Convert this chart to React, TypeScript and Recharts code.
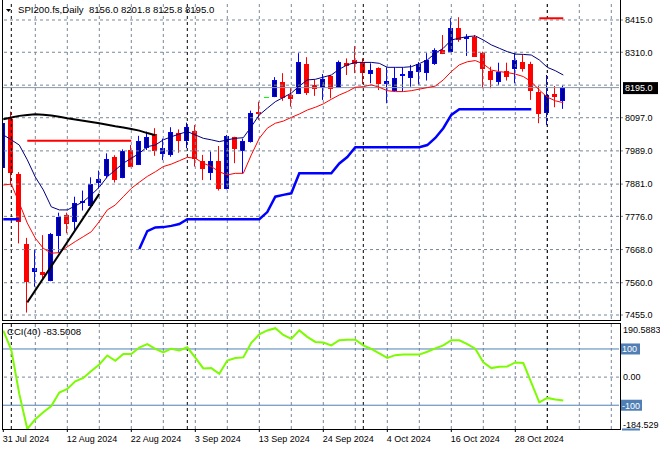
import React from 'react';
import { ComposedChart, Bar, Line, XAxis, YAxis, ReferenceLine } from 'recharts';

const dates = [
  '31 Jul', '1 Aug', '2 Aug', '5 Aug', '6 Aug', '7 Aug', '8 Aug', '9 Aug', '12 Aug', '13 Aug',
  '14 Aug', '15 Aug', '16 Aug', '19 Aug', '20 Aug', '21 Aug', '22 Aug', '23 Aug', '26 Aug', '27 Aug',
  '28 Aug', '29 Aug', '30 Aug', '2 Sep', '3 Sep', '4 Sep', '5 Sep', '6 Sep', '9 Sep', '10 Sep',
  '11 Sep', '12 Sep', '13 Sep', '15 Sep', '16 Sep', '17 Sep', '18 Sep', '19 Sep', '20 Sep', '23 Sep',
  '24 Sep', '25 Sep', '26 Sep', '27 Sep', '30 Sep', '1 Oct', '2 Oct', '3 Oct', '4 Oct', '7 Oct',
  '8 Oct', '9 Oct', '10 Oct', '11 Oct', '14 Oct', '15 Oct', '16 Oct', '17 Oct', '18 Oct', '21 Oct',
  '22 Oct', '23 Oct', '24 Oct', '25 Oct', '28 Oct', '29 Oct', '30 Oct', '31 Oct', '1 Nov', '4 Nov',
  '5 Nov',
];

const open = [
  7938, 8092, 7914, 7686, 7599, 7595, 7569, 7714, 7780, 7762,
  7823, 7813, 7889, 7910, 7970, 7903, 7992, 7946, 8003, 8044,
  7981, 7979, 8046, 8025, 8055, 7955, 7921, 7956, 7867, 8033,
  7992, 8022, 8117, 8165, 8168, 8214, 8171, 8177, 8271, 8204,
  8196, 8234, 8196, 8276, 8285, 8277, 8242, 8258, 8209, 8187,
  8235, 8231, 8250, 8247, 8274, 8317, 8315, 8388, 8356, 8361,
  8307, 8249, 8218, 8249, 8258, 8279, 8272, 8182, 8117, 8174,
  8156.0,
];
const high = [
  8095, 8117, 7920, 7706, 7667, 7715, 7722, 7788, 7788, 7840,
  7860, 7903, 7925, 7981, 7975, 7994, 8008, 8038, 8052, 8063,
  8029, 8066, 8059, 8081, 8073, 7976, 7987, 8005, 8041, 8035,
  8029, 8120, 8149, 8165, 8229, 8242, 8193, 8307, 8294, 8220,
  8239, 8236, 8283, 8290, 8330, 8290, 8274, 8261, 8261, 8261,
  8261, 8269, 8278, 8307, 8323, 8366, 8421, 8424, 8369, 8366,
  8312, 8263, 8276, 8276, 8307, 8301, 8279, 8200, 8236, 8200,
  8201.8,
];
const low = [
  7925, 7878, 7688, 7463, 7547, 7575, 7565, 7658, 7721, 7732,
  7795, 7808, 7867, 7900, 7886, 7900, 7936, 7943, 7992, 7973,
  7959, 7970, 7983, 7998, 7938, 7894, 7894, 7860, 7864, 7949,
  7916, 8016, 8090, 8165, 8164, 8152, 8133, 8174, 8171, 8168,
  8155, 8160, 8194, 8236, 8242, 8207, 8209, 8187, 8144, 8182,
  8182, 8198, 8205, 8218, 8269, 8304, 8312, 8344, 8298, 8296,
  8193, 8193, 8204, 8218, 8209, 8247, 8155, 8079, 8073, 8131,
  8125.8,
];
const close = [
  8079, 7921, 7762, 7567, 7607, 7590, 7719, 7773, 7755, 7820,
  7827, 7881, 7897, 7963, 7897, 7989, 7940, 8021, 8035, 7992,
  7999, 8050, 8025, 8066, 7965, 7934, 7955, 7867, 8038, 7999,
  8020, 8113, 8111, 8165, 8220, 8165, 8162, 8277, 8182, 8193,
  8222, 8193, 8277, 8269, 8276, 8247, 8252, 8211, 8217, 8225,
  8238, 8249, 8271, 8285, 8317, 8307, 8388, 8352, 8361, 8298,
  8258, 8223, 8247, 8233, 8285, 8258, 8187, 8113, 8171, 8168,
  8195.0,
];

// fast moving average (navy)
const maFast = [
  8041, 8025, 8008, 7960, 7904, 7862, 7807, 7797, 7797, 7810,
  7824, 7846, 7871, 7905, 7927, 7949, 7965, 7981, 8003, 8008,
  8025, 8035, 8044, 8052, 8041, 8030, 8025, 8019, 8025, 8030,
  8032, 8068, 8106, 8128, 8149, 8163, 8177, 8200, 8220, 8222,
  8229, 8236, 8255, 8269, 8277, 8277, 8277, 8274, 8261, 8261,
  8261, 8263, 8273, 8285, 8307, 8323, 8350, 8356, 8361, 8363,
  8350, 8334, 8323, 8312, 8304, 8303, 8301, 8285, 8261, 8250,
  8236,
];
// slow moving average (red)
const maSlow = [
  7878, 7881, 7819, 7754, 7705, 7672, 7656, 7658, 7677, 7694,
  7710, 7726, 7759, 7797, 7813, 7840, 7867, 7887, 7906, 7921,
  7938, 7946, 7957, 7968, 7965, 7949, 7938, 7921, 7911, 7916,
  7916, 7976, 8030, 8063, 8079, 8086, 8098, 8109, 8122, 8131,
  8142, 8157, 8171, 8182, 8196, 8198, 8204, 8196, 8185, 8182,
  8182, 8185, 8190, 8195, 8200, 8220, 8247, 8269, 8279, 8283,
  8272, 8252, 8247, 8244, 8239, 8231, 8214, 8187, 8164, 8152,
  8146,
];
// thick blue trailing support
const support: (number | null)[] = [
  7766.5, 7766.5, 7766.5, null, null, null, null, null, null, null,
  null, null, null, null, null, null, null, 7670, 7728, 7740,
  7741, 7745, 7751, 7766.5, 7766.5, 7766.5, 7766.5, 7766.5, 7766.5, 7766.5,
  7766.5, 7766.5, 7766.5, 7790, 7840, 7846, 7851, 7916, 7916, 7916,
  7916, 7916, 7948, 7969, 8001, 8001, 8001, 8001, 8001, 8001,
  8001, 8001, 8001, 8008, 8031, 8063, 8106, 8124.4, 8124.4, 8124.4,
  8124.4, 8124.4, 8124.4, 8124.4, 8124.4, 8124.4, 8124.4, null, null, null,
  null,
];
// black curved line at upper left
const curve: (number | null)[] = [
  8092, 8098, 8103, 8106, 8108, 8107, 8104, 8100, 8095, 8091,
  8087, 8083, 8079, 8074, 8069, 8065, 8060, 8055, 8047, 8040,
];
// black rising trend line (start / end)
const trendBars = [3, 12];
const trendValues = [7496, 7849];
// red horizontal levels
const levelBars = [3, 16];
const levelValue = 8022;
const topLevelBars = [67, 70];
const topLevelValue = 8420.6;

const cci = [
  165, 97, -60, -184.5, -150, -125, -103, -55, -42, -15,
  -3, 22, 45, 77, 58, 82, 82, 105, 117, 100,
  88, 101, 95, 106, 69, 31, 32, 12, 59, 68,
  70, 122, 152, 166, 174, 150, 136, 166, 143, 125,
  123, 113, 131, 133, 133, 113, 100, 84, 68, 78,
  80, 80, 80, 90, 102, 113, 131, 131, 117, 101,
  53, 32, 37, 38, 52, 50, -20, -90, -74, -80,
  -83.5008,
];

const priceTicks = [8415, 8310, 8195, 8097, 7989, 7881, 7776, 7668, 7560, 7455];
const priceGrid = [8415, 8310, 8203, 8097, 7989, 7881, 7776, 7668, 7560, 7455];
const lastPrice = 8195.0;
const priceDomain = [7442.0, 8470.3];
const cciTicks = [190.5883, 100, 0, -100, -184.529];
const cciDomain = [-184.529, 190.5883];
const labelBars = [0, 8, 16, 24, 32, 40, 48, 56, 64];
const xDomain = [-0.0375, 76.9625];
const gridBars = Array.from({ length: 19 }, (_, k) => 4 * (k + 1));
const monthStarts = dates
  .map((d, i) => (i > 0 && d.split(' ')[1] !== dates[i - 1].split(' ')[1] ? i : -1))
  .filter((i) => i >= 0);

const rows = dates.map((d, i) => ({
  i,
  date: d,
  o: open[i],
  h: high[i],
  l: low[i],
  c: close[i],
  range: [low[i], high[i]],
  maFast: maFast[i],
  maSlow: maSlow[i],
  support: support[i],
  curve: i < curve.length ? curve[i] : null,
  trend: trendBars.indexOf(i) >= 0 ? trendValues[trendBars.indexOf(i)] : null,
  level: levelBars.indexOf(i) >= 0 ? levelValue : null,
  topLevel: topLevelBars.indexOf(i) >= 0 ? topLevelValue : null,
  cci: cci[i],
}));

const FONT = '"Liberation Sans", Arial, sans-serif';
const GRID = '#778899';
const BULL_FILL = '#00008b';
const BULL_LINE = '#0000ff';
const BEAR = '#ff0000';

const Candle = (props: any) => {
  const { x, y, width, height, payload } = props;
  if (x == null || y == null || !payload) return null;
  const { o, h, l, c } = payload;
  const top = Math.min(y, y + (height || 0));
  const bot = Math.max(y, y + (height || 0));
  const span = h - l;
  const py = (p: number) => (span === 0 ? top : top + ((h - p) / span) * (bot - top));
  const col = Math.round(x + width / 2 - 0.5);
  const cx = col + 0.5;
  if (o === c) {
    const yy = Math.round(py(o)) + 0.5;
    return (
      <g>
        {span > 0 && <line x1={cx} x2={cx} y1={py(h)} y2={py(l)} stroke="#00ff00" strokeWidth={1} />}
        <line x1={col - 2} x2={col + 3} y1={yy} y2={yy} stroke="#00ff00" strokeWidth={1} />
      </g>
    );
  }
  const bull = c > o;
  const lineColor = bull ? BULL_LINE : BEAR;
  const fill = bull ? BULL_FILL : BEAR;
  const bt = Math.round(Math.min(py(o), py(c)));
  const bb = Math.round(Math.max(py(o), py(c)));
  return (
    <g>
      <line x1={cx} x2={cx} y1={py(h)} y2={py(l)} stroke={lineColor} strokeWidth={1} />
      {bb - bt < 1 ? (
        <line x1={col - 2} x2={col + 3} y1={bt + 0.5} y2={bt + 0.5} stroke={lineColor} strokeWidth={1} />
      ) : (
        <rect x={col - 1.5} y={bt + 0.5} width={4} height={bb - bt} fill={fill} stroke={lineColor} strokeWidth={1} />
      )}
    </g>
  );
};

const PriceTick = (props: any) => {
  const { y, payload } = props;
  const v = payload.value;
  if (v === lastPrice) {
    return (
      <g>
        <rect x={623} y={y - 5.5} width={35} height={12} fill="#000" />
        <text x={625} y={y} dy={3.5} fill="#fff" fontSize={9} fontFamily={FONT}>
          {v.toFixed(1)}
        </text>
      </g>
    );
  }
  return (
    <g>
      <line x1={620} x2={623} y1={y} y2={y} stroke={GRID} />
      <text x={625} y={y} dy={3.3} fill="#000" fontSize={9} fontFamily={FONT}>
        {v.toFixed(1)}
      </text>
    </g>
  );
};

const CciTick = (props: any) => {
  const { y, payload } = props;
  const v = payload.value;
  if (v === 100 || v === -100) {
    const w = v > 0 ? 19 : 21;
    return (
      <g>
        <rect x={621} y={y - 5.5} width={w} height={11} fill="#4f7fb5" />
        <text x={622} y={y} dy={3.3} fill="#fff" fontSize={9} fontFamily={FONT}>
          {String(v)}
        </text>
      </g>
    );
  }
  if (v === 0) {
    return (
      <text x={623} y={y} dy={3.3} fill="#000" fontSize={9} fontFamily={FONT}>
        0.00
      </text>
    );
  }
  if (v > 0) {
    return (
      <text x={623} y={y} dy={9} fill="#000" fontSize={9} fontFamily={FONT}>
        {String(v)}
      </text>
    );
  }
  return (
    <g>
      <text x={623} y={y} dy={-1} fill="#000" fontSize={9} fontFamily={FONT}>
        {String(v)}
      </text>
      <line x1={622} x2={640} y1={y + 0.5} y2={y + 0.5} stroke="#4f7fb5" strokeWidth={2} />
    </g>
  );
};

const DateTick = (props: any) => {
  const { x, payload } = props;
  const i = payload.value as number;
  return (
    <g>
      <line x1={x} x2={x} y1={108} y2={111} stroke="#000" />
      <text x={x - 0.5} y={120.5} fill="#000" fontSize={9} fontFamily={FONT} textAnchor="start">
        {dates[i] + ' 2024'}
      </text>
    </g>
  );
};

const vGrid = (prefix: string) => [
  ...gridBars.map((b) => (
    <ReferenceLine key={prefix + 'g' + b} x={b} stroke={GRID} strokeDasharray="3 3" ifOverflow="visible" />
  )),
  ...monthStarts.map((b) => (
    <ReferenceLine key={prefix + 'm' + b} x={b} stroke="#000" strokeDasharray="3 3" ifOverflow="visible" />
  )),
];

export default function App() {
  return (
    <div style={{ position: 'absolute', left: 0, top: 0, width: 660, height: 450, background: '#fff', overflow: 'hidden' }}>
      <div style={{ position: 'absolute', left: 0, top: 0 }}>
        <ComposedChart width={660} height={321} data={rows} margin={{ top: 3, right: 0, bottom: 2, left: 3 }}>
          <XAxis type="number" dataKey="i" domain={xDomain} allowDataOverflow hide />
          <YAxis
            orientation="right"
            width={41}
            domain={priceDomain}
            allowDataOverflow
            ticks={priceTicks}
            interval={0}
            axisLine={false}
            tickLine={false}
            tick={<PriceTick />}
          />
          {priceGrid.map((p) => (
            <ReferenceLine key={'h' + p} y={p} stroke={GRID} strokeDasharray="3 3" />
          ))}
          {vGrid('p')}
          <ReferenceLine y={lastPrice} stroke="#8a98a8" strokeWidth={1} />
          <Line dataKey="support" stroke="#0000ff" strokeWidth={2.5} dot={false} activeDot={false} isAnimationActive={false} connectNulls={false} />
          <Line dataKey="maSlow" stroke="#ff0000" strokeWidth={1} dot={false} activeDot={false} isAnimationActive={false} />
          <Line dataKey="maFast" stroke="#000080" strokeWidth={1} dot={false} activeDot={false} isAnimationActive={false} />
          <Line dataKey="level" stroke="#ff0000" strokeWidth={2} dot={false} activeDot={false} isAnimationActive={false} connectNulls />
          <Line dataKey="topLevel" stroke="#ff0000" strokeWidth={2} dot={false} activeDot={false} isAnimationActive={false} connectNulls />
          <Line dataKey="curve" stroke="#000" strokeWidth={2} dot={false} activeDot={false} isAnimationActive={false} connectNulls={false} />
          <Line dataKey="trend" stroke="#000" strokeWidth={2} dot={false} activeDot={false} isAnimationActive={false} connectNulls />
          <Bar dataKey="range" barSize={5} shape={<Candle />} isAnimationActive={false} />
        </ComposedChart>
      </div>
      <div style={{ position: 'absolute', left: 0, top: 321 }}>
        <ComposedChart width={660} height={129} data={rows} margin={{ top: 2.5, right: 0, bottom: 0, left: 3 }}>
          <XAxis
            type="number"
            dataKey="i"
            domain={xDomain}
            allowDataOverflow
            ticks={labelBars}
            interval={0}
            height={21}
            axisLine={false}
            tickLine={false}
            tick={<DateTick />}
          />
          <YAxis
            orientation="right"
            width={41}
            domain={cciDomain}
            allowDataOverflow
            ticks={cciTicks}
            interval={0}
            axisLine={false}
            tickLine={false}
            tick={<CciTick />}
          />
          {vGrid('c')}
          <ReferenceLine y={0} stroke={GRID} strokeDasharray="3 3" />
          <ReferenceLine y={100} stroke="#4f7fb5" />
          <ReferenceLine y={-100} stroke="#4f7fb5" />
          <Line dataKey="cci" stroke="#7cfc00" strokeWidth={2} dot={false} activeDot={false} isAnimationActive={false} />
        </ComposedChart>
      </div>
      {/* panel frames */}
      <div style={{ position: 'absolute', left: 2, top: -1, width: 617, height: 321, borderLeft: '1px solid #000', borderRight: '1px solid #000', borderBottom: '1px solid #000', pointerEvents: 'none' }} />
      <div style={{ position: 'absolute', left: 2, top: 323, width: 617, height: 105, border: '1px solid #000', pointerEvents: 'none', boxSizing: 'content-box' }} />
      {/* titles */}
      <div style={{ position: 'absolute', left: 18, top: 4, fontFamily: FONT, fontSize: 9.6, color: '#000', whiteSpace: 'pre', lineHeight: '12px' }}>
        {'SPI200.fs,Daily  8156.0 8201.8 8125.8 8195.0'}
      </div>
      <svg style={{ position: 'absolute', left: 0, top: 0 }} width={16} height={16}>
        <polygon points="6,9 11,9 8.5,12" fill="#000" />
      </svg>
      <div style={{ position: 'absolute', left: 7, top: 326, fontFamily: FONT, fontSize: 9.6, color: '#000', whiteSpace: 'pre', lineHeight: '12px' }}>
        {'CCI(40) -83.5008'}
      </div>
    </div>
  );
}
